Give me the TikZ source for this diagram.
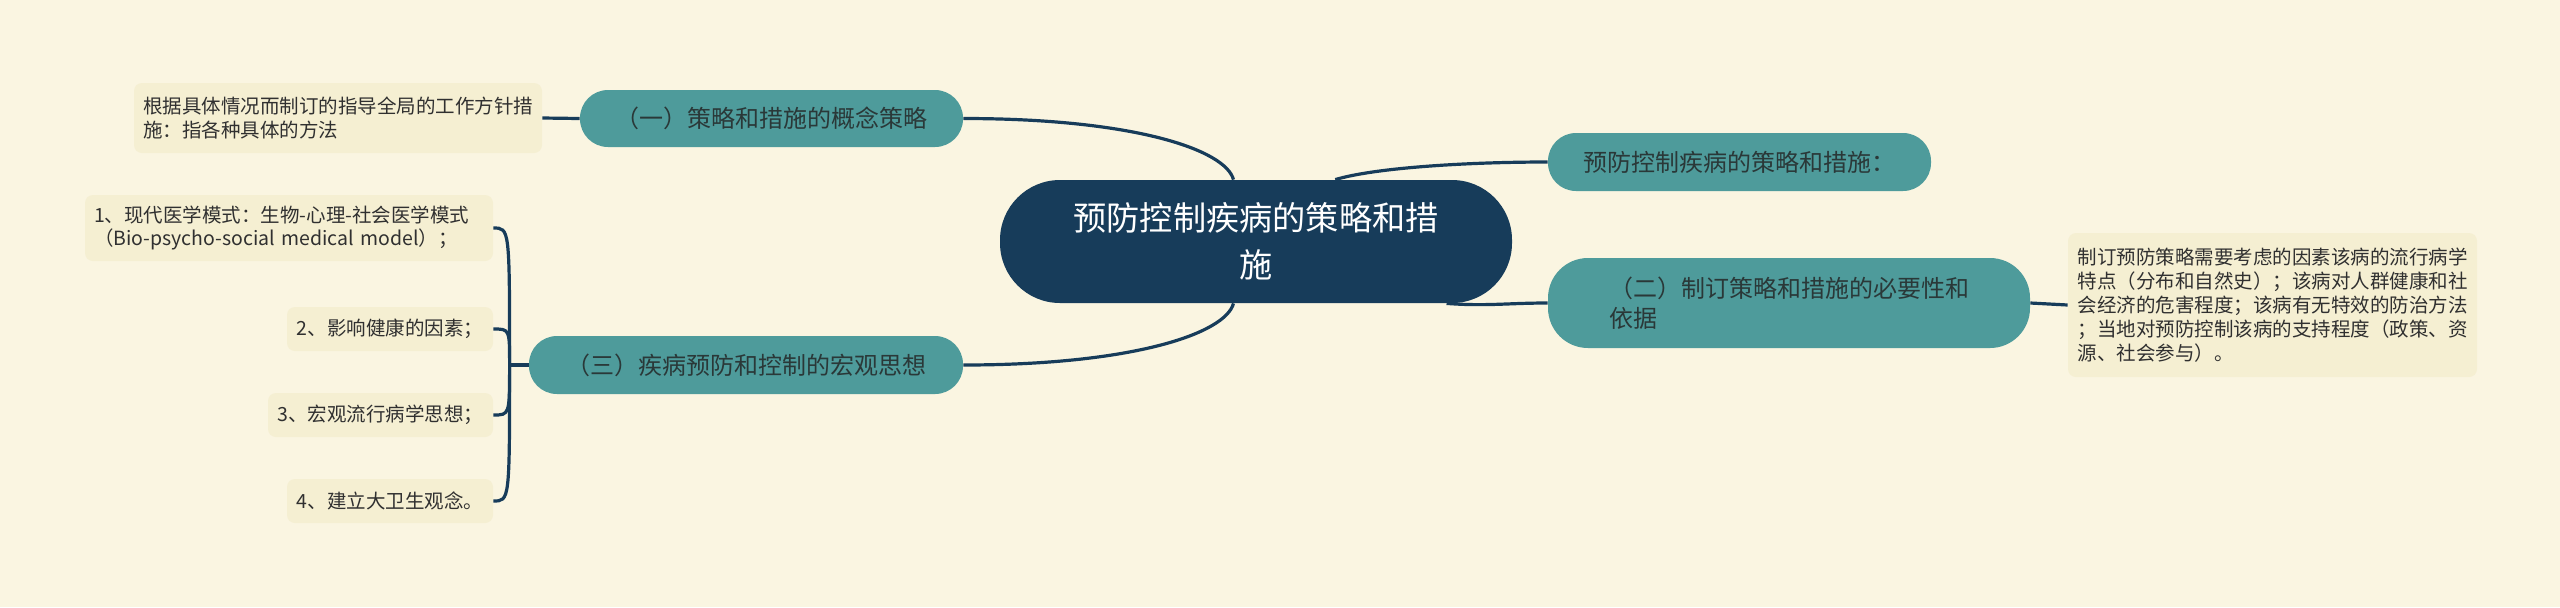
\documentclass[tikz,border=0pt]{standalone}
\usepackage{fontspec}
\setmainfont{Noto Sans CJK SC}
\usetikzlibrary{calc}
\definecolor{bgc}{HTML}{FAF5E1}
\definecolor{leafc}{HTML}{F5EFD2}
\definecolor{tealc}{HTML}{4E9B9B}
\definecolor{navyc}{HTML}{173C5A}
\definecolor{txtc}{HTML}{303030}
\definecolor{toptxt}{HTML}{2A3838}
\begin{document}
\begin{tikzpicture}[x=0.5pt,y=-0.5pt,
  rootbox/.style={fill=navyc, text=white, rounded corners=30pt, minimum width=256pt, minimum height=61.5pt, inner sep=0pt, align=center, font=\fontsize{16.6}{23.5}\selectfont},
  topic/.style={fill=tealc, text=toptxt, inner sep=0pt, rounded corners=14pt, font=\fontsize{12}{15}\selectfont},
  leaf/.style={fill=leafc, text=txtc, rounded corners=4pt, inner sep=0pt, font=\fontsize{9.75}{11.75}\selectfont},
  link/.style={draw=navyc, line width=1.6pt}]
\fill[bgc] (0,0) rectangle (2560,607);
\useasboundingbox (0,0) rectangle (2560,607);

\node[rootbox] (root) at (1256,241.5) {预防控制疾病的策略和措\\施};
\node[topic, minimum width=191.5pt, minimum height=28.5pt] (n1) at (771.5,118.5) {（一）策略和措施的概念策略};
\node[topic, minimum width=217pt, minimum height=29pt] (n3) at (746,365) {（三）疾病预防和控制的宏观思想};
\node[topic, minimum width=191.5pt, minimum height=29pt] (nr) at (1739.5,162) {预防控制疾病的策略和措施：};
\node[topic, minimum width=241pt, minimum height=45pt, rounded corners=20pt, align=left] (n2) at (1789,303) {（二）制订策略和措施的必要性和\\依据};

\node[leaf, minimum width=204pt, minimum height=35pt, align=left] (l1) at (338,118) {根据具体情况而制订的指导全局的工作方针措\\施：指各种具体的方法};
\node[leaf, minimum width=204pt, minimum height=33pt, text width=195pt, align=left] (l2) at (289,228) {1、现代医学模式：生物-心理-社会医学模式\\（Bio-psycho-social medical model）；};
\node[leaf, minimum width=103pt, minimum height=22pt] (l3) at (390,329) {2、影响健康的因素；};
\node[leaf, minimum width=112.5pt, minimum height=22pt] (l4) at (380.5,415) {3、宏观流行病学思想；};
\node[leaf, minimum width=103pt, minimum height=22pt] (l5) at (390,501) {4、建立大卫生观念。};
\node[leaf, minimum width=204.5pt, minimum height=72pt, align=left, font=\fontsize{9.75}{12}\selectfont] (l6) at (2272.5,305) {制订预防策略需要考虑的因素该病的流行病学\\特点（分布和自然史）；该病对人群健康和社\\会经济的危害程度；该病有无特效的防治方法\\；当地对预防控制该病的支持程度（政策、资\\源、社会参与）。};

\draw[link] (root.110) .. controls +(-8,-30) and +(170,0) .. (n1.east);
\draw[link] (root.250) .. controls +(-8,30) and +(170,0) .. (n3.east);
\draw[link] (root.38) .. controls +(40,-12) and +(-80,0) .. (nr.west);
\draw[link] (root.342) .. controls +(40,3) and +(-40,0) .. (n2.west);
\draw[link] (n1.west) -- (l1.east);
\draw[link] (n2.east) -- (l6.west);

\coordinate (b) at ($(n3.west)+(-19,0)$);
\draw[link] (n3.west) -- (b);
\foreach \c in {l2,l3,l4,l5}
  \draw[link] (b) .. controls (b |- \c.east) and (b |- \c.east) .. (\c.east);
\end{tikzpicture}
\end{document}
